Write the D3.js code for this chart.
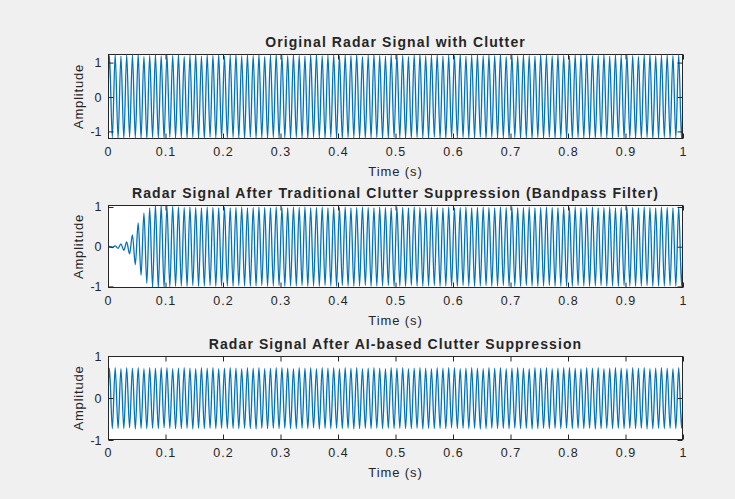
<!DOCTYPE html>
<html><head><meta charset="utf-8">
<script src="https://cdn.jsdelivr.net/npm/d3@7"></script>
<style>
body{margin:0;background:#f0f0f0}
svg{display:block}
text{font-family:"Liberation Sans",Arial,Helvetica,sans-serif;fill:#262626}
</style>
</head><body>
<svg id="chart" width="735" height="499"></svg>
<script>
// ---- data ----
const titles = [
  "Original Radar Signal with Clutter",
  "Radar Signal After Traditional Clutter Suppression (Bandpass Filter)",
  "Radar Signal After AI-based Clutter Suppression"
];
const xTicks = [0,0.1,0.2,0.3,0.4,0.5,0.6,0.7,0.8,0.9,1];
const xTickLabels = ["0","0.1","0.2","0.3","0.4","0.5","0.6","0.7","0.8","0.9","1"];
const yTicks = [-1,0,1];
const yTickLabels = ["-1","0","1"];
const xLabel = "Time (s)";
const yLabel = "Amplitude";

// half-cycle extreme values (one value every 5 ms, 0..1 s)
const clutterPeaks = [
 1.21,-1.18,1.24,-1.20,1.19,-1.21,1.23,-1.17,1.22,-1.19,1.25,-1.20,1.18,-1.22,1.21,-1.18,1.24,-1.19,1.20,-1.21,
 1.23,-1.17,1.21,-1.20,1.24,-1.19,1.18,-1.21,1.22,-1.18,1.25,-1.20,1.19,-1.22,1.23,-1.17,1.21,-1.19,1.24,-1.20,
 1.19,-1.21,1.22,-1.18,1.25,-1.19,1.20,-1.22,1.23,-1.17,1.21,-1.20,1.24,-1.19,1.18,-1.21,1.22,-1.18,1.25,-1.20,
 1.22,-1.19,1.20,-1.21,1.24,-1.18,1.21,-1.20,1.19,-1.22,1.23,-1.18,1.25,-1.19,1.20,-1.21,1.22,-1.17,1.24,-1.20,
 1.20,-1.22,1.23,-1.18,1.21,-1.19,1.25,-1.20,1.18,-1.21,1.22,-1.19,1.24,-1.18,1.21,-1.22,1.19,-1.20,1.23,-1.17,
 1.24,-1.19,1.21,-1.20,1.18,-1.22,1.23,-1.18,1.25,-1.19,1.20,-1.21,1.22,-1.17,1.24,-1.20,1.19,-1.21,1.22,-1.18,
 1.21,-1.20,1.25,-1.18,1.19,-1.21,1.22,-1.19,1.24,-1.17,1.20,-1.22,1.23,-1.18,1.21,-1.20,1.25,-1.19,1.18,-1.21,
 1.23,-1.18,1.20,-1.21,1.24,-1.19,1.21,-1.22,1.19,-1.18,1.25,-1.20,1.22,-1.17,1.20,-1.21,1.24,-1.19,1.21,-1.20,
 1.19,-1.21,1.23,-1.18,1.22,-1.20,1.25,-1.19,1.20,-1.22,1.21,-1.18,1.24,-1.19,1.19,-1.21,1.23,-1.17,1.22,-1.20,
 1.24,-1.19,1.21,-1.20,1.18,-1.21,1.23,-1.18,1.25,-1.22,1.20,-1.19,1.22,-1.18,1.24,-1.20,1.21,-1.19,1.23,-1.21
];
const bandpassPeaks = [
 0.01,-0.02,0.02,-0.04,0.07,-0.09,0.12,-0.18,0.30,-0.45,0.60,-0.72,0.85,-0.92,0.98,-1.02,1.04,-1.04,1.05,-1.03,
 1.03,-1.01,1.02,-1.00,1.00,-0.99,0.99,-1.00,1.00,-0.98,0.99,-1.00,0.98,-0.99,1.00,-0.98,0.99,-1.00,0.98,-0.99,
 1.00,-0.99,0.98,-1.00,0.99,-0.98,1.00,-0.99,0.98,-1.00,0.99,-0.99,1.00,-0.98,0.99,-1.00,0.98,-0.99,1.00,-0.98,
 0.99,-1.00,0.98,-0.99,1.00,-0.99,0.99,-0.98,1.00,-1.00,0.98,-0.99,0.99,-1.00,1.00,-0.98,0.98,-0.99,1.00,-1.00,
 0.99,-0.98,1.00,-0.99,0.98,-1.00,0.99,-0.99,1.00,-0.98,0.99,-1.00,0.98,-0.99,1.00,-0.99,0.99,-0.98,0.98,-1.00,
 1.00,-0.99,0.99,-1.00,0.98,-0.98,1.00,-0.99,0.99,-1.00,0.98,-0.99,1.00,-0.98,0.99,-1.00,0.98,-0.99,1.00,-0.99,
 0.98,-1.00,0.99,-0.98,1.00,-0.99,0.98,-1.00,0.99,-0.99,1.00,-0.98,0.99,-1.00,0.98,-0.99,1.00,-0.98,0.99,-1.00,
 1.00,-0.99,0.98,-1.00,0.99,-0.98,1.00,-0.99,0.98,-1.00,0.99,-0.99,1.00,-0.98,0.99,-1.00,0.98,-0.99,1.00,-0.99,
 0.99,-1.00,1.00,-0.98,0.98,-0.99,0.99,-1.00,1.00,-0.99,0.98,-0.98,0.99,-1.00,1.00,-0.99,0.98,-1.00,0.99,-0.98,
 1.00,-0.99,0.99,-1.00,0.98,-0.99,1.00,-0.98,0.99,-1.00,0.98,-0.99,1.00,-0.99,0.99,-0.98,0.98,-1.00,1.00,-0.99
];
const aiPeaks = [
 0.71,-0.73,0.72,-0.72,0.70,-0.73,0.72,-0.71,0.71,-0.74,0.72,-0.72,0.70,-0.73,0.72,-0.72,0.71,-0.73,0.72,-0.71,
 0.72,-0.72,0.70,-0.73,0.71,-0.73,0.72,-0.72,0.71,-0.74,0.70,-0.72,0.72,-0.73,0.71,-0.72,0.72,-0.73,0.70,-0.72,
 0.71,-0.73,0.72,-0.72,0.71,-0.73,0.70,-0.72,0.72,-0.73,0.71,-0.74,0.72,-0.72,0.70,-0.73,0.71,-0.72,0.72,-0.73,
 0.72,-0.72,0.71,-0.73,0.70,-0.73,0.72,-0.72,0.71,-0.73,0.72,-0.71,0.70,-0.74,0.72,-0.72,0.71,-0.73,0.72,-0.72,
 0.70,-0.73,0.72,-0.72,0.71,-0.74,0.72,-0.73,0.70,-0.72,0.71,-0.73,0.72,-0.72,0.71,-0.73,0.70,-0.72,0.72,-0.73,
 0.71,-0.72,0.72,-0.73,0.70,-0.73,0.71,-0.72,0.72,-0.74,0.71,-0.72,0.70,-0.73,0.72,-0.72,0.71,-0.73,0.72,-0.71,
 0.72,-0.73,0.70,-0.72,0.71,-0.73,0.72,-0.72,0.71,-0.74,0.70,-0.73,0.72,-0.72,0.71,-0.73,0.72,-0.72,0.70,-0.73,
 0.71,-0.72,0.72,-0.73,0.71,-0.72,0.70,-0.74,0.72,-0.73,0.71,-0.72,0.72,-0.73,0.70,-0.72,0.71,-0.73,0.72,-0.72,
 0.72,-0.73,0.71,-0.72,0.70,-0.73,0.72,-0.72,0.71,-0.74,0.72,-0.73,0.70,-0.72,0.71,-0.73,0.72,-0.72,0.71,-0.73,
 0.70,-0.72,0.72,-0.73,0.71,-0.72,0.72,-0.74,0.70,-0.73,0.71,-0.72,0.72,-0.73,0.71,-0.72,0.70,-0.73,0.72,-0.72
];
const seriesList = [clutterPeaks, bandpassPeaks, aiPeaks];
const fixedYDomain = [null, null, [-1, 1]]; // null -> tight to data

// ---- layout ----
const svg = d3.select("#chart");
const W = 735, H = 499;
svg.append("rect").attr("width", W).attr("height", H).attr("fill", "#f0f0f0");
const left = 108, right = 683;
const panels = [
  {top: 54, bottom: 139},
  {top: 205, bottom: 288},
  {top: 356, bottom: 440}
];
const lineColor = "#0072BD", axisColor = "#262626";
const tickLen = 5;
const x = d3.scaleLinear().domain([0, 1]).range([left, right]);

panels.forEach((p, i) => {
  const vals = seriesList[i];
  const n = vals.length;
  const pts = [[0, 0]].concat(vals.map((v, k) => [(k + 0.5) / n, v])).concat([[1, 0]]);
  const dom = fixedYDomain[i] || d3.extent(pts, d => d[1]);
  const y = d3.scaleLinear().domain(dom).range([p.bottom, p.top]);
  const g = svg.append("g");
  const cid = "clip" + i;
  svg.append("clipPath").attr("id", cid).append("rect")
    .attr("x", left).attr("y", p.top).attr("width", right - left).attr("height", p.bottom - p.top);
  g.append("rect").attr("x", left).attr("y", p.top).attr("width", right - left)
    .attr("height", p.bottom - p.top).attr("fill", "#fff");
  const line = d3.line().x(d => x(d[0])).y(d => y(d[1])).curve(d3.curveMonotoneX);
  g.append("path").datum(pts).attr("d", line).attr("fill", "none")
    .attr("stroke", lineColor).attr("stroke-width", 1.3).attr("clip-path", `url(#${cid})`);

  // box
  g.append("rect").attr("x", left + 0.5).attr("y", p.top + 0.5)
    .attr("width", right - left - 1).attr("height", p.bottom - p.top - 1)
    .attr("fill", "none").attr("stroke", axisColor).attr("stroke-width", 1);

  // axes with inward ticks
  const xb = d3.axisBottom(x).tickValues(xTicks).tickSizeInner(-tickLen).tickSizeOuter(0)
    .tickFormat((d, j) => xTickLabels[j]).tickPadding(9);
  const gx = g.append("g").attr("transform", `translate(0,${p.bottom - 0.5})`).call(xb);
  const xt = d3.axisTop(x).tickValues(xTicks).tickSizeInner(-tickLen).tickSizeOuter(0).tickFormat("");
  const gxt = g.append("g").attr("transform", `translate(0,${p.top + 0.5})`).call(xt);
  const yl = d3.axisLeft(y).tickValues(yTicks).tickSizeInner(-tickLen).tickSizeOuter(0)
    .tickFormat((d, j) => yTickLabels[j]).tickPadding(7);
  const gy = g.append("g").attr("transform", `translate(${left + 0.5},0)`).call(yl);
  const yr = d3.axisRight(y).tickValues(yTicks).tickSizeInner(-tickLen).tickSizeOuter(0).tickFormat("");
  const gyr = g.append("g").attr("transform", `translate(${right - 0.5},0)`).call(yr);
  [gx, gxt, gy, gyr].forEach(a => {
    a.select(".domain").remove();
    a.selectAll("line").attr("stroke", axisColor);
    a.selectAll("text").attr("fill", axisColor).style("font-size", "12.5px")
      .style("font-family", '"Liberation Sans",Arial,sans-serif');
  });
  gx.selectAll("text").style("letter-spacing", "1px");

  // title
  svg.append("text").attr("x", (left + right) / 2).attr("y", p.top - 7)
    .attr("text-anchor", "middle").style("font-weight", "bold").style("font-size", "14px")
    .style("letter-spacing", "1.1px").text(titles[i]);
  // x label
  svg.append("text").attr("x", (left + right) / 2).attr("y", p.bottom + 37)
    .attr("text-anchor", "middle").style("font-size", "13px").style("letter-spacing", "0.9px").text(xLabel);
  // y label
  svg.append("text").attr("transform", `translate(83,${(p.top + p.bottom) / 2}) rotate(-90)`)
    .attr("text-anchor", "middle").style("font-size", "13px").style("letter-spacing", "0.8px").text(yLabel);
});
</script>
</body></html>
